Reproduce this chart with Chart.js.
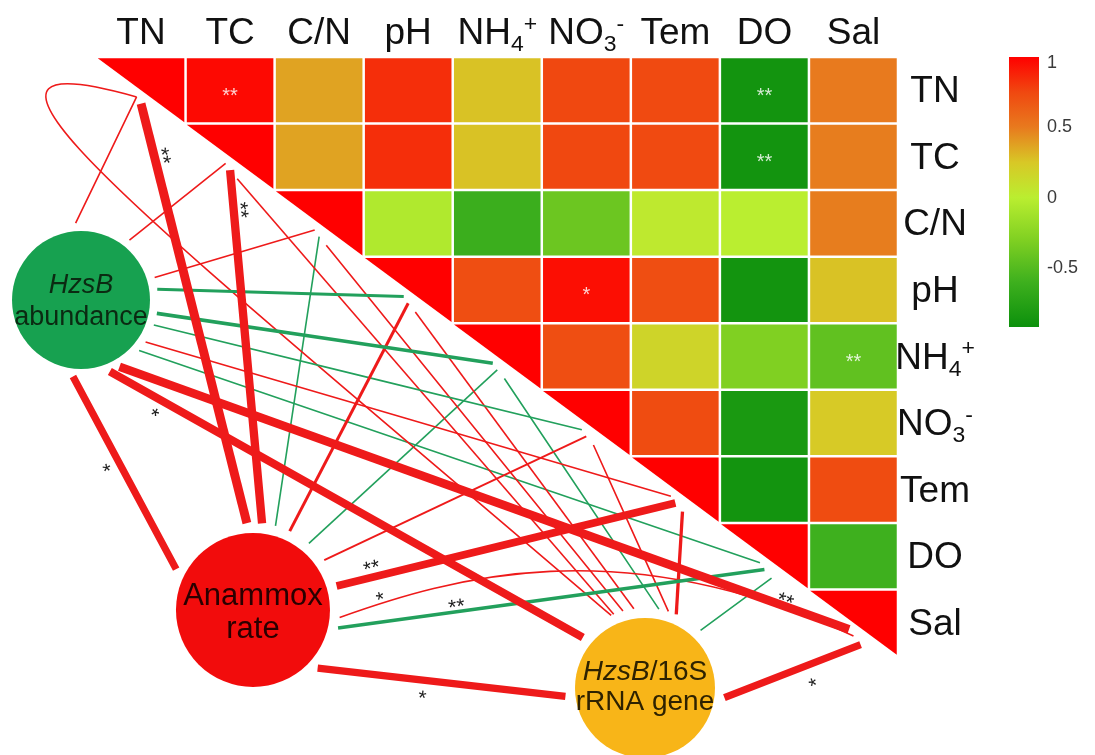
<!DOCTYPE html>
<html>
<head>
<meta charset="utf-8">
<title>Anammox indicators vs. environmental factors</title>
<script src="https://cdn.jsdelivr.net/npm/chart.js@4.4.1/dist/chart.umd.min.js"></script>
<style>
  html, body { margin: 0; padding: 0; background: #ffffff; }
  canvas { display: block; }
</style>
</head>
<body>
<canvas id="chart" width="1095" height="755"></canvas>
<script>
// ---------------- data ----------------
const envVars = ['TN', 'TC', 'C/N', 'pH', 'NH_4^+', 'NO_3^-', 'Tem', 'DO', 'Sal'];

// Pairwise correlation among environmental factors (upper triangle only).
const rTN  = [1,    0.97, 0.37,  0.84,  0.27,  0.75, 0.74, -0.88,  0.50];
const rTC  = [null, 1,    0.37,  0.84,  0.27,  0.75, 0.74, -0.88,  0.49];
const rCN  = [null, null, 1,    -0.05, -0.62, -0.39, 0.03,  0.00,  0.49];
const rPH  = [null, null, null,  1,     0.72,  0.95, 0.72, -0.88,  0.27];
const rNH4 = [null, null, null,  null,  1,     0.72, 0.17, -0.30, -0.44];
const rNO3 = [null, null, null,  null,  null,  1,    0.73, -0.83,  0.24];
const rTem = [null, null, null,  null,  null,  null, 1,    -0.88,  0.73];
const rDO  = [null, null, null,  null,  null,  null, null,  1,    -0.60];
const rSal = [null, null, null,  null,  null,  null, null,  null,  1];
const corrRows = [rTN, rTC, rCN, rPH, rNH4, rNO3, rTem, rDO, rSal];

// Significant factor pairs: [row, column, stars]
const cellStars = [[0, 1, '**'], [0, 7, '**'], [1, 7, '**'], [3, 5, '*'], [4, 8, '**']];

// Correlation of each anammox indicator with every factor, plus significance.
const hzsbR    = [0.26, 0.24,  0.25, -0.40, -0.44, -0.30, 0.30, -0.26, 0.80];
const hzsbSig  = ['',   '',    '',    '',    '',    '',    '',    '',    '**'];
const rateR    = [0.82, 0.78, -0.26,  0.40, -0.26,  0.32, 0.74, -0.44, 0.30];
const rateSig  = ['**', '**',  '',    '',    '',    '',   '**', '**',  '*'];
const ratioR   = [0.26, 0.26,  0.26,  0.26, -0.26,  0.26, 0.42, -0.26, 0.70];
const ratioSig = ['',   '',    '',    '',    '',    '',    '',    '',    '*'];

// Links between the indicators themselves: [from, to, r, stars]
const nodeLinks = [['hzsb', 'rate', 0.70, '*'], ['hzsb', 'ratio', 0.76, '*'], ['rate', 'ratio', 0.70, '*']];

const colorbarTicks = [1, 0.5, 0, -0.5];

// ---------------- styling / layout ----------------
const FONT = '"Liberation Sans", Arial, Helvetica, sans-serif';
const POS_LINK = '#ee1a1a';
const NEG_LINK = '#22a05c';

const colorStops = [
  [-1.0, [0, 136, 8]], [-0.6, [62, 176, 30]], [-0.3, [128, 208, 34]], [0.0, [186, 238, 48]],
  [0.25, [216, 200, 38]], [0.5, [232, 122, 30]], [0.75, [240, 72, 16]], [1.0, [255, 0, 0]]
];

// Node placement in grid units (x: factor columns, y: factor rows), radius in px.
const NODES = {
  hzsb:  { x: -0.174, y: 3.651, radius: 69, gap: 8,  fill: '#17a150', ink: '#0b2a12', size: 27,
           text: [{ dy: -7, parts: [['HzsB', true]] }, { dy: 25, parts: [['abundance', false]] }] },
  rate:  { x: 1.757,  y: 8.308, radius: 77, gap: 10, fill: '#f20c0c', ink: '#2a0000', size: 31,
           text: [{ dy: -5, parts: [['Anammox', false]] }, { dy: 28, parts: [['rate', false]] }] },
  ratio: { x: 6.159,  y: 9.48,  radius: 70, gap: 10, fill: '#f8b518', ink: '#2e2200', size: 28,
           text: [{ dy: -8, parts: [['HzsB', true], ['/16S', false]] }, { dy: 22, parts: [['rRNA gene', false]] }] }
};
const nodeKeys = ['hzsb', 'rate', 'ratio'];
const nodeR = { hzsb: hzsbR, rate: rateR, ratio: ratioR };
const nodeSig = { hzsb: hzsbSig, rate: rateSig, ratio: ratioSig };

// Angle (deg) at which each link leaves its node, per factor.
const PORTS = {
  hzsb:  [-94, -51, -17, -8, 10, 19, 33, 41, 60],
  rate:  [-94, -84, -75, -65, -50, -35, -16, 12, 5],
  ratio: [-115, -113, -106, -98, -80, -73, -67, -46, 7]
};
const PAIR_PORTS = { 'hzsb-rate': [96, -152], 'hzsb-ratio': [68, -141], 'rate-ratio': [42, 174] };
// Where links touch the diagonal: shift along it, and offset below it (grid units).
const ANCHOR_SHIFT = { hzsb: [-0.05, 0.15], rate: [0, 0.2], ratio: [0.08, 0.25] };
// Curved routes (bezier control points in grid units).
const ROUTES = {
  'ratio:0': { c1: [0.60, 2.45], c2: [-2.21, -0.41], shift: [-0.05, 0.15] },
  'rate:8':  { c1: [3.969, 7.828], c2: [5.878, 7.076] }
};
// Star placement along a link: [fraction, perpendicular offset px]
const STAR_POS = {
  'hzsb:8': [0.91, -10], 'rate:0': [0.87, 13], 'rate:1': [0.885, 12], 'rate:6': [0.11, -14],
  'rate:7': [0.28, -10], 'rate:8': [0.12, -9], 'ratio:8': [0.6, 16],
  'hzsb-rate': [0.44, 12], 'hzsb-ratio': [0.11, 12], 'rate-ratio': [0.43, 13]
};
// Colour bar geometry (px) and the value range it spans.
const CBAR = { left: 1009, width: 30, top: 57, bottom: 327, vTop: 1.0, vBottom: -0.92 };

// ---------------- helpers ----------------
function colorFor(v) {
  v = Math.max(-1, Math.min(1, v));
  for (let k = 1; k < colorStops.length; k++) {
    const [v1, c1] = colorStops[k];
    const [v0, c0] = colorStops[k - 1];
    if (v <= v1) {
      const f = (v - v0) / (v1 - v0);
      const c = c0.map((a, n) => Math.round(a + (c1[n] - a) * f));
      return `rgb(${c[0]},${c[1]},${c[2]})`;
    }
  }
  return 'rgb(255,0,0)';
}

function linkWidth(r) { return 1.6 + 14 * Math.max(0, Math.abs(r) - 0.3); }

function parseLabel(label) {
  const parts = [];
  const re = /_(.)|\^(.)|([^_^]+)/g;
  let m;
  while ((m = re.exec(label))) {
    if (m[1]) parts.push({ t: m[1], mode: 'sub' });
    else if (m[2]) parts.push({ t: m[2], mode: 'sup' });
    else parts.push({ t: m[3], mode: 'n' });
  }
  return parts;
}

function drawRich(ctx, parts, x, baseline, size, align) {
  const small = size * 0.62;
  const fontOf = p => `${p.italic ? 'italic ' : ''}${p.mode === 'n' ? size : small}px ${FONT}`;
  let total = 0;
  const widths = parts.map(p => { ctx.font = fontOf(p); const w = ctx.measureText(p.t).width; total += w; return w; });
  let cx = align === 'center' ? x - total / 2 : x;
  ctx.textAlign = 'left';
  ctx.textBaseline = 'alphabetic';
  parts.forEach((p, k) => {
    ctx.font = fontOf(p);
    const dy = p.mode === 'sub' ? size * 0.2 : p.mode === 'sup' ? -size * 0.36 : 0;
    ctx.fillText(p.t, cx, baseline + dy);
    cx += widths[k];
  });
}

function gridPx(chart, gx, gy) {
  return [chart.scales.x.getPixelForValue(gx), chart.scales.y.getPixelForValue(gy)];
}

function portPx(chart, key, angleDeg) {
  const n = NODES[key];
  const [cx, cy] = gridPx(chart, n.x, n.y);
  const a = angleDeg * Math.PI / 180, d = n.radius + n.gap;
  return [cx + d * Math.cos(a), cy + d * Math.sin(a)];
}

function bezierAt(p0, c1, c2, p3, t) {
  const u = 1 - t;
  const pt = [0, 1].map(k => u * u * u * p0[k] + 3 * u * u * t * c1[k] + 3 * u * t * t * c2[k] + t * t * t * p3[k]);
  const dv = [0, 1].map(k => 3 * u * u * (c1[k] - p0[k]) + 6 * u * t * (c2[k] - c1[k]) + 3 * t * t * (p3[k] - c2[k]));
  return { pt, dv };
}

function buildLinks(chart) {
  const links = [];
  nodeKeys.forEach(key => {
    nodeR[key].forEach((r, i) => {
      const id = `${key}:${i}`;
      const route = ROUTES[id];
      const sh = (route && route.shift) || ANCHOR_SHIFT[key];
      const p0 = portPx(chart, key, PORTS[key][i]);
      const p3 = gridPx(chart, i + 0.5 + sh[0], i + 0.5 + sh[0] + sh[1]);
      let c1, c2;
      if (route) { c1 = gridPx(chart, ...route.c1); c2 = gridPx(chart, ...route.c2); }
      else {
        c1 = [p0[0] + (p3[0] - p0[0]) / 3, p0[1] + (p3[1] - p0[1]) / 3];
        c2 = [p0[0] + 2 * (p3[0] - p0[0]) / 3, p0[1] + 2 * (p3[1] - p0[1]) / 3];
      }
      links.push({ id, r, stars: nodeSig[key][i], p0, c1, c2, p3 });
    });
  });
  nodeLinks.forEach(([a, b, r, stars]) => {
    const id = `${a}-${b}`;
    const [pa, pb] = PAIR_PORTS[id];
    const p0 = portPx(chart, a, pa), p3 = portPx(chart, b, pb);
    const c1 = [p0[0] + (p3[0] - p0[0]) / 3, p0[1] + (p3[1] - p0[1]) / 3];
    const c2 = [p0[0] + 2 * (p3[0] - p0[0]) / 3, p0[1] + 2 * (p3[1] - p0[1]) / 3];
    links.push({ id, r, stars, p0, c1, c2, p3 });
  });
  return links;
}

// ---------------- drawing plugin ----------------
const heatNetwork = {
  id: 'heatNetwork',
  beforeDatasetsDraw(chart) {
    const { ctx } = chart;
    const { x, y } = chart.scales;
    const g = 1.25;
    ctx.save();
    // correlation cells
    corrRows.forEach((row, i) => row.forEach((v, j) => {
      if (v === null) return;
      const x0 = x.getPixelForValue(j) + g, x1 = x.getPixelForValue(j + 1) - g;
      const y0 = y.getPixelForValue(i) + g, y1 = y.getPixelForValue(i + 1) - g;
      ctx.fillStyle = colorFor(v);
      ctx.beginPath();
      if (i === j) { ctx.moveTo(x0, y0); ctx.lineTo(x1, y0); ctx.lineTo(x1, y1); ctx.closePath(); }
      else ctx.rect(x0, y0, x1 - x0, y1 - y0);
      ctx.fill();
    }));
    ctx.fillStyle = 'rgba(255,255,255,0.82)';
    ctx.font = `20px ${FONT}`;
    ctx.textAlign = 'center';
    ctx.textBaseline = 'alphabetic';
    cellStars.forEach(([i, j, s]) => {
      ctx.fillText(s, x.getPixelForValue(j + 0.5), y.getPixelForValue(i + 0.5) + 0.57 * 20);
    });

    // links, thin ones first
    const links = buildLinks(chart).sort((a, b) => Math.abs(a.r) - Math.abs(b.r));
    ctx.lineCap = 'butt';
    links.forEach(l => {
      ctx.strokeStyle = l.r >= 0 ? POS_LINK : NEG_LINK;
      ctx.lineWidth = linkWidth(l.r);
      ctx.beginPath();
      ctx.moveTo(...l.p0);
      ctx.bezierCurveTo(...l.c1, ...l.c2, ...l.p3);
      ctx.stroke();
    });
    ctx.fillStyle = '#1e1e1e';
    ctx.font = `21px ${FONT}`;
    ctx.textAlign = 'center';
    links.forEach(l => {
      if (!l.stars) return;
      const [t, off] = STAR_POS[l.id] || [0.5, 10];
      const { pt, dv } = bezierAt(l.p0, l.c1, l.c2, l.p3, t);
      const len = Math.hypot(dv[0], dv[1]);
      const nx = -dv[1] / len, ny = dv[0] / len;
      let ang = Math.atan2(dv[1], dv[0]);
      if (ang > Math.PI / 2) ang -= Math.PI;
      if (ang <= -Math.PI / 2) ang += Math.PI;
      ctx.save();
      ctx.translate(pt[0] + nx * off, pt[1] + ny * off);
      ctx.rotate(ang);
      ctx.fillText(l.stars, 0, 0.57 * 21);
      ctx.restore();
    });
    ctx.restore();
  },
  afterDatasetsDraw(chart) {
    const { ctx, chartArea } = chart;
    const { x, y } = chart.scales;
    ctx.save();
    // node captions
    nodeKeys.forEach(key => {
      const n = NODES[key];
      const [cx, cy] = gridPx(chart, n.x, n.y);
      ctx.fillStyle = n.ink;
      n.text.forEach(line => {
        const parts = line.parts.map(([t, it]) => ({ t, mode: 'n', italic: it }));
        drawRich(ctx, parts, cx, cy + line.dy, n.size, 'center');
      });
    });
    // factor labels: columns on top, rows on the right
    ctx.fillStyle = '#111111';
    envVars.forEach((lab, i) => {
      const parts = parseLabel(lab);
      drawRich(ctx, parts, x.getPixelForValue(i + 0.5), chartArea.top - 13, 37, 'center');
      drawRich(ctx, parts, chartArea.right + 37, y.getPixelForValue(i + 0.5) + 12, 37, 'center');
    });
    // colour bar
    const { left, width, top, bottom, vTop, vBottom } = CBAR;
    const grad = ctx.createLinearGradient(0, top, 0, bottom);
    colorStops.forEach(([v]) => {
      const f = (vTop - v) / (vTop - vBottom);
      if (f >= 0 && f <= 1) grad.addColorStop(f, colorFor(v));
    });
    grad.addColorStop(0, colorFor(vTop));
    grad.addColorStop(1, colorFor(vBottom));
    ctx.fillStyle = grad;
    ctx.fillRect(left, top, width, bottom - top);
    ctx.fillStyle = '#3a3a3a';
    ctx.font = `18px ${FONT}`;
    ctx.textAlign = 'left';
    ctx.textBaseline = 'middle';
    colorbarTicks.forEach(v => {
      const yy = top + (vTop - v) / (vTop - vBottom) * (bottom - top);
      ctx.fillText(String(v), left + width + 8, Math.max(yy, top + 6));
    });
    ctx.restore();
  }
};

// ---------------- chart ----------------
new Chart(document.getElementById('chart'), {
  type: 'scatter',
  data: {
    datasets: [{
      label: 'indicators',
      data: nodeKeys.map(k => ({ x: NODES[k].x, y: NODES[k].y })),
      pointRadius: nodeKeys.map(k => NODES[k].radius),
      pointHoverRadius: nodeKeys.map(k => NODES[k].radius),
      backgroundColor: nodeKeys.map(k => NODES[k].fill),
      borderWidth: 0,
      clip: false
    }]
  },
  options: {
    responsive: false,
    animation: false,
    devicePixelRatio: 1,
    events: [],
    layout: { autoPadding: false, padding: { left: 96.5, right: 197, top: 57, bottom: 99 } },
    scales: {
      x: { type: 'linear', min: 0, max: 9, display: false },
      y: { type: 'linear', min: 0, max: 9, reverse: true, display: false }
    },
    plugins: { legend: { display: false }, tooltip: { enabled: false } }
  },
  plugins: [heatNetwork]
});
</script>
</body>
</html>
